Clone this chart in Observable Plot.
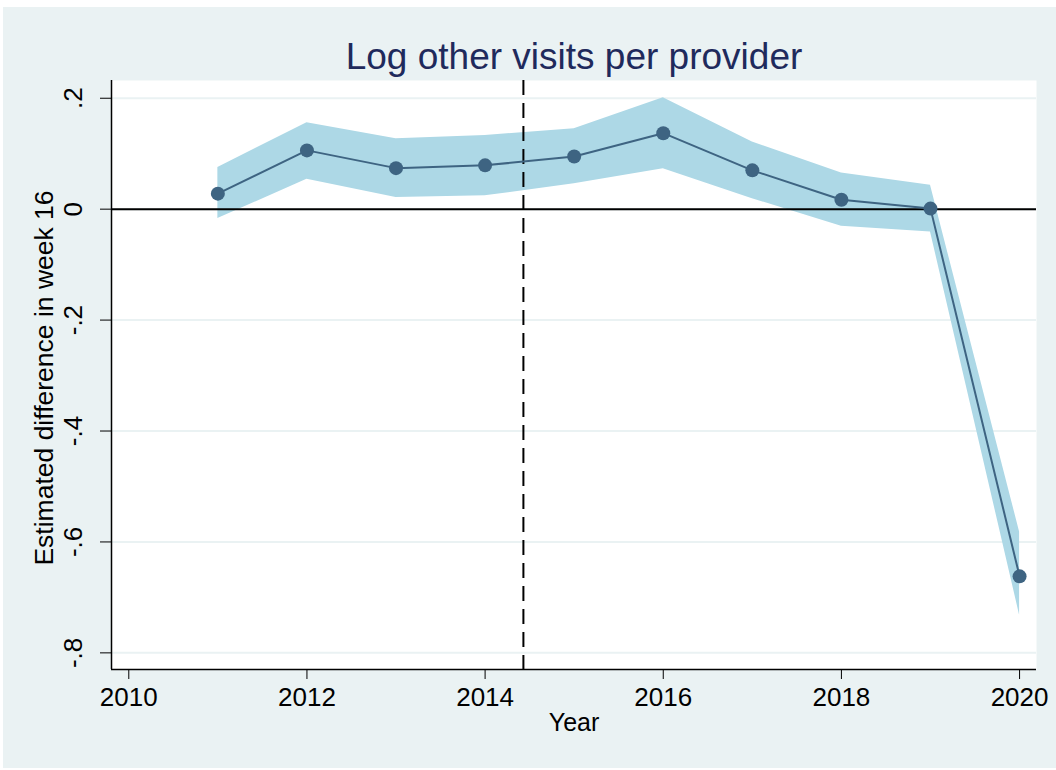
<!DOCTYPE html>
<html>
<head>
<meta charset="utf-8">
<script src="https://cdn.jsdelivr.net/npm/d3@7"></script>
<script src="https://cdn.jsdelivr.net/npm/@observablehq/plot@0.6"></script>
<style>
  html, body { margin: 0; padding: 0; background: #ffffff; }
  #chart { position: absolute; left: 3px; top: 7px; }
  #chart svg { background: #eaf2f3; display: block; }
</style>
</head>
<body>
<div id="chart"></div>
<script>
const years = [2011, 2012, 2013, 2014, 2015, 2016, 2017, 2018, 2019, 2020];
const estimate = [0.028, 0.106, 0.074, 0.079, 0.095, 0.137, 0.070, 0.017, 0.001, -0.662];
const ciLow = [-0.017, 0.054, 0.021, 0.024, 0.046, 0.073, 0.019, -0.031, -0.041, -0.732];
const ciHigh = [0.075, 0.156, 0.127, 0.133, 0.145, 0.201, 0.121, 0.065, 0.043, -0.582];
const xTicks = [2010, 2012, 2014, 2016, 2018, 2020];
const yTicks = [0.2, 0, -0.2, -0.4, -0.6, -0.8];
const yTickLabels = [".2", "0", "-.2", "-.4", "-.6", "-.8"];
const eventYear = 2014.43;
const titleText = "Log other visits per provider";
const xLabel = "Year";
const yLabel = "Estimated difference in week 16";

const xDomain = [2009.806, 2020.19];
const yDomain = [-0.830, 0.232];

const rows = years.map((yr, i) => ({year: yr, est: estimate[i], lo: ciLow[i], hi: ciHigh[i]}));
const yTickRows = yTicks.map((v, i) => ({v, label: yTickLabels[i]}));

const font = "'Liberation Sans', Arial, Helvetica, sans-serif";

const chart = Plot.plot({
  width: 1053,
  height: 761,
  marginLeft: 108,
  marginRight: 20,
  marginTop: 73,
  marginBottom: 99,
  style: {fontFamily: font, background: "#eaf2f3", overflow: "visible"},
  x: {domain: xDomain},
  y: {domain: yDomain},
  marks: [
    Plot.frame({fill: "white", stroke: "none"}),
    Plot.gridY(yTicks, {stroke: "#eaf2f3", strokeOpacity: 1, strokeWidth: 2}),
    Plot.areaY(rows, {x: "year", y1: "lo", y2: "hi", fill: "#add8e6", fillOpacity: 1, curve: "linear"}),
    Plot.ruleY([0], {stroke: "black", strokeWidth: 2}),
    Plot.ruleX([eventYear], {stroke: "black", strokeWidth: 2, strokeDasharray: "15,8"}),
    Plot.line(rows, {x: "year", y: "est", stroke: "#3e6482", strokeWidth: 2}),
    Plot.dot(rows, {x: "year", y: "est", r: 7, fill: "#3e6482", stroke: "none"}),
    Plot.ruleX([xDomain[0]], {stroke: "black", strokeWidth: 1.5}),
    Plot.ruleY([yDomain[0]], {stroke: "black", strokeWidth: 1.5}),
    Plot.axisX({ticks: xTicks, tickFormat: d => String(d), tickSize: 10, tickPadding: 8, fontSize: 26, stroke: "black", color: "black", label: null}),
    Plot.axisY({ticks: yTicks, tickFormat: () => "", tickSize: 11, stroke: "black", label: null}),
    Plot.text(yTickRows, {x: () => xDomain[0], y: "v", text: "label", rotate: -90, dx: -38, fontSize: 26, fill: "black", textAnchor: "middle", lineAnchor: "middle"}),
    Plot.text([yLabel], {frameAnchor: "left", dx: -67, dy: 3, rotate: -90, fontSize: 26.5, fill: "black", textAnchor: "middle", lineAnchor: "middle"}),
    Plot.text([xLabel], {frameAnchor: "bottom", dy: 53, fontSize: 25, fill: "black", lineAnchor: "middle"}),
    Plot.text([titleText], {frameAnchor: "top", dy: -23, fontSize: 37, fill: "#1f2a5c", lineAnchor: "middle"})
  ]
});
document.getElementById("chart").appendChild(chart);
</script>
</body>
</html>
